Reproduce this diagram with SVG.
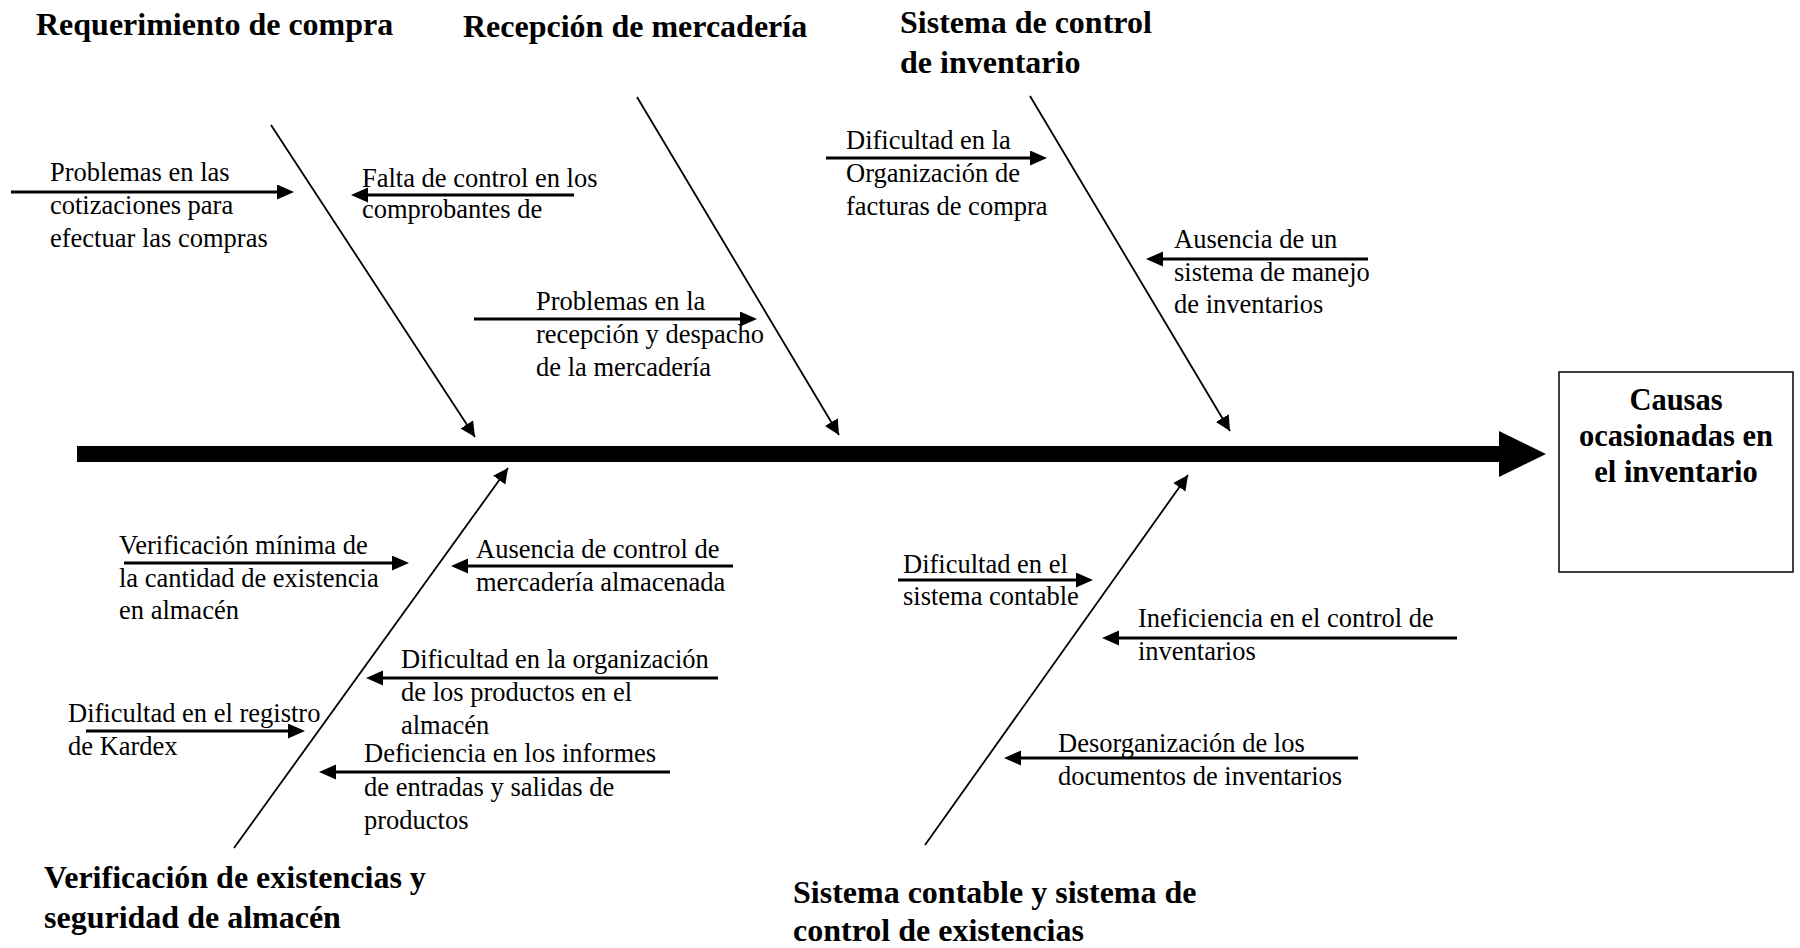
<svg xmlns="http://www.w3.org/2000/svg" width="1800" height="948" viewBox="0 0 1800 948">
<style>
.t{font-family:"Liberation Serif","Times New Roman",serif;font-size:26.5px;fill:#000}
.h{font-family:"Liberation Serif","Times New Roman",serif;font-size:32px;font-weight:bold;fill:#000}
.b{font-family:"Liberation Serif","Times New Roman",serif;font-size:30.5px;font-weight:bold;fill:#000}
.bone{stroke:#000;stroke-width:1.8;fill:none;marker-end:url(#hb)}
.arr{stroke:#000;stroke-width:3;fill:none;marker-end:url(#ha)}
</style>
<defs>
<marker id="hb" markerUnits="userSpaceOnUse" markerWidth="18" markerHeight="16" refX="15" refY="7.5" orient="auto">
<path d="M0,0 L15,7.5 L0,15 z" fill="#000"/>
</marker>
<marker id="ha" markerUnits="userSpaceOnUse" markerWidth="20" markerHeight="16" refX="11" refY="7.5" orient="auto">
<path d="M0,0 L17,7.5 L0,15 z" fill="#000"/>
</marker>
</defs>
<rect width="1800" height="948" fill="#fff"/>

<g id="spine">
<rect x="77" y="446" width="1423" height="16" fill="#000"/>
<polygon points="1499,431 1546,454 1499,477" fill="#000"/>
</g>

<g id="connectors">
<line class="bone" x1="271" y1="125" x2="475" y2="437"/>
<line class="bone" x1="637" y1="97" x2="839" y2="435"/>
<line class="bone" x1="1030" y1="96" x2="1230" y2="431"/>
<line class="bone" x1="234" y1="848" x2="508" y2="468"/>
<line class="bone" x1="925" y1="845" x2="1188" y2="475"/>

<line class="arr" x1="11" y1="192" x2="288" y2="192"/>
<line class="arr" x1="574" y1="195" x2="357" y2="195"/>
<line class="arr" x1="474" y1="319" x2="751" y2="319"/>
<line class="arr" x1="826" y1="158" x2="1041" y2="158"/>
<line class="arr" x1="1368" y1="259" x2="1152" y2="259"/>

<line class="arr" x1="124" y1="563" x2="403" y2="563"/>
<line class="arr" x1="733" y1="566" x2="457" y2="566"/>
<line class="arr" x1="718" y1="678" x2="372" y2="678"/>
<line class="arr" x1="86" y1="731" x2="299" y2="731"/>
<line class="arr" x1="670" y1="772" x2="325" y2="772"/>
<line class="arr" x1="898" y1="580" x2="1087" y2="580"/>
<line class="arr" x1="1457" y1="638" x2="1108" y2="638"/>
<line class="arr" x1="1358" y1="758" x2="1010" y2="758"/>
</g>

<g id="cat-requerimiento"><text class="h" x="36" y="35">Requerimiento de compra</text></g>
<g id="cat-recepcion"><text class="h" x="463" y="37">Recepción de mercadería</text></g>
<g id="cat-sistema-control"><text class="h" x="900" y="33">Sistema de control</text><text class="h" x="900" y="73">de inventario</text></g>
<g id="cat-verificacion"><text class="h" x="44" y="888">Verificación de existencias y</text><text class="h" x="44" y="928">seguridad de almacén</text></g>
<g id="cat-contable"><text class="h" x="793" y="903">Sistema contable y sistema de</text><text class="h" x="793" y="941">control de existencias</text></g>

<g id="effect">
<rect x="1559" y="372" width="234" height="200" fill="#fff" stroke="#000" stroke-width="1.5"/>
<text class="b" x="1676" y="410" text-anchor="middle">Causas</text>
<text class="b" x="1676" y="446" text-anchor="middle">ocasionadas en</text>
<text class="b" x="1676" y="482" text-anchor="middle">el inventario</text>
</g>

<g id="c1"><text class="t" x="50" y="181">Problemas en las</text><text class="t" x="50" y="214">cotizaciones para</text><text class="t" x="50" y="247">efectuar las compras</text></g>
<g id="c2"><text class="t" x="362" y="187">Falta de control en los</text><text class="t" x="362" y="218">comprobantes de</text></g>
<g id="c3"><text class="t" x="536" y="310">Problemas en la</text><text class="t" x="536" y="343">recepción y despacho</text><text class="t" x="536" y="376">de la mercadería</text></g>
<g id="c4"><text class="t" x="846" y="149">Dificultad en la</text><text class="t" x="846" y="182">Organización de</text><text class="t" x="846" y="215">facturas de compra</text></g>
<g id="c5"><text class="t" x="1174" y="248">Ausencia de un</text><text class="t" x="1174" y="281">sistema de manejo</text><text class="t" x="1174" y="313">de inventarios</text></g>
<g id="c6"><text class="t" x="119" y="554">Verificación mínima de</text><text class="t" x="119" y="587">la cantidad de existencia</text><text class="t" x="119" y="619">en almacén</text></g>
<g id="c7"><text class="t" x="476" y="558">Ausencia de control de</text><text class="t" x="476" y="591">mercadería almacenada</text></g>
<g id="c8"><text class="t" x="401" y="668">Dificultad en la organización</text><text class="t" x="401" y="701">de los productos en el</text><text class="t" x="401" y="734">almacén</text></g>
<g id="c9"><text class="t" x="68" y="722">Dificultad en el registro</text><text class="t" x="68" y="755">de Kardex</text></g>
<g id="c10"><text class="t" x="364" y="762">Deficiencia en los informes</text><text class="t" x="364" y="796">de entradas y salidas de</text><text class="t" x="364" y="829">productos</text></g>
<g id="c11"><text class="t" x="903" y="573">Dificultad en el</text><text class="t" x="903" y="605">sistema contable</text></g>
<g id="c12"><text class="t" x="1138" y="627">Ineficiencia en el control de</text><text class="t" x="1138" y="660">inventarios</text></g>
<g id="c13"><text class="t" x="1058" y="752">Desorganización de los</text><text class="t" x="1058" y="785">documentos de inventarios</text></g>
</svg>
